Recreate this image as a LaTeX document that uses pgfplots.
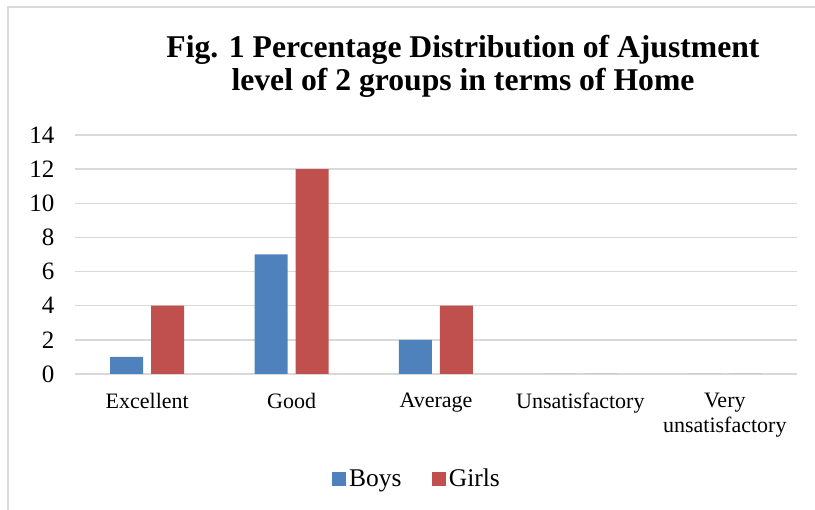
\documentclass[border=0pt]{standalone}
\usepackage{pgfplots}
\pgfplotsset{compat=1.18}
\usepackage{fontspec}
\setmainfont{Liberation Serif}
\definecolor{boys}{HTML}{4F81BD}
\definecolor{girls}{HTML}{C0504D}
\definecolor{gridc}{HTML}{D9D9D9}
\begin{document}
\begin{tikzpicture}[x=0.6pt,y=0.6pt]
\useasboundingbox (0,0) rectangle (815,510);
\draw[gridc, line width=1.2pt] (8,-5) -- (8,503) -- (820,503);
\node[font=\fontsize{19}{22}\selectfont\bfseries, anchor=base, inner sep=0pt] at (463,452) {Fig. 1 Percentage Distribution of Ajustment};
\node[font=\fontsize{19}{22}\selectfont\bfseries, anchor=base, inner sep=0pt] at (463,419) {level of 2 groups in terms of Home};
\begin{axis}[
  at={(45pt,81.6pt)}, anchor=south west,
  scale only axis, width=433.2pt, height=143.4pt,
  xmin=-0.5, xmax=4.5, ymin=0, ymax=14,
  ytick={0,2,...,14},
  xtick={0,1,2,3,4},
  xticklabels={Excellent,Good,Average,Unsatisfactory,Very\\unsatisfactory},
  ybar=4.8pt, bar width=19.8pt,
  ymajorgrids, grid style={gridc, line width=0.9pt},
  axis line style={draw=none},
  major tick length=0pt,
  /pgf/number format/assume math mode=true,
  yticklabel style={font=\fontsize{15}{18}\selectfont, xshift=-8.8pt},
  xticklabel style={font=\fontsize{13.2}{15}\selectfont, align=center, yshift=-7.8pt},
  legend style={at={(0.4744,-0.439)}, anchor=center, draw=none, fill=none,
    legend columns=2, font=\fontsize{15.3}{18}\selectfont,
    /tikz/every even column/.append style={column sep=16pt}},
  legend image code/.code={\path[#1, draw=none] (0pt,-4.2pt) rectangle (8.4pt,4.2pt);},
]
\addplot[fill=boys, draw=none] coordinates {(0,1) (1,7) (2,2) (3,0) (4,0)};
\addplot[fill=girls, draw=none] coordinates {(0,4) (1,12) (2,4) (3,0) (4,0)};
\legend{Boys,Girls}
\end{axis}
\end{tikzpicture}
\end{document}
